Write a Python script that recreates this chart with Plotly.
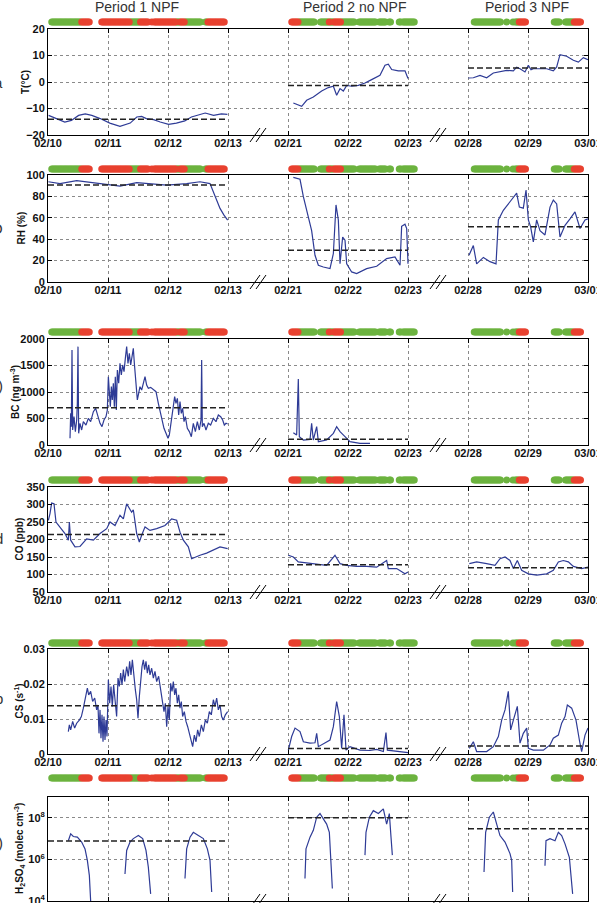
import plotly.graph_objects as go

# ---------------- data ----------------
DATE_LABELS = ["02/10", "02/11", "02/12", "02/13", "02/21", "02/22", "02/23", "02/28", "02/29", "03/01"]
PERIOD_START = [0, 4, 7]          # compressed-axis position of first day of each period
PERIOD_TITLES = ["Period 1 NPF", "Period 2 no NPF", "Period 3 NPF"]
LEFT_FRAGMENTS = ["a", "O", ")", "d", "b", ")"]   # clipped labels at the left edge of the page

# NPF classification, run-length encoded at 30-min steps ("g"=green, "r"=red, "."=none)
NPF_RUNS_P1 = [(".", 3), ("g", 24), ("r", 7), (".", 9), ("r", 23), ("g", 8), ("r", 7), (".", 2), ("r", 1), (".", 1),
               ("r", 18), ("g", 3), ("r", 4), ("g", 13), (".", 3), ("g", 2), ("r", 14), (".", 2)]
NPF_RUNS_P2 = [(".", 3), ("r", 6), ("g", 13), (".", 4), ("g", 7), ("r", 1), ("g", 3), ("r", 6), ("g", 11), (".", 3),
               ("g", 14), (".", 2), ("g", 6), (".", 2), ("g", 2), (".", 6), ("g", 2), (".", 1), ("g", 10)]
NPF_RUNS_P3 = [(".", 5), ("g", 22), (".", 4), ("g", 1), (".", 4), ("g", 1), (".", 1), ("g", 3), ("r", 6), (".", 22),
               ("g", 5), (".", 4), ("g", 7), ("r", 6), (".", 8), ("g", 1)]

# Temperature (deg C); time = days since period start
T_P1_t = [0.01, 0.14, 0.28, 0.39, 0.51, 0.62, 0.73, 0.87, 1.03, 1.20, 1.28, 1.37, 1.48, 1.56, 1.64, 1.76, 1.87, 2.01,
          2.14, 2.28, 2.39, 2.48, 2.62, 2.76, 2.89, 2.99]
T_P1 = [-12.6, -13.8, -15.1, -14.5, -12.6, -12.0, -12.6, -13.8, -15.5, -16.7, -16.0, -15.5, -13.2, -13.0, -13.8, -14.2,
        -15.1, -16.0, -15.5, -14.7, -13.2, -12.6, -11.7, -12.6, -12.0, -12.2]
T_P2_t = [0.089, 0.228, 0.311, 0.422, 0.561, 0.672, 0.756, 0.811, 0.867, 0.922, 0.978, 1.061, 1.172, 1.283, 1.394,
          1.533, 1.617, 1.672, 1.728, 1.839, 1.95, 2.0]
T_P2 = [-7.9, -9.2, -6.9, -5.7, -3.4, -2.1, -1.6, -5.0, -2.5, -3.4, -1.3, -1.6, -1.3, -0.4, 0.9, 2.5, 6.3, 6.7, 4.7,
        4.2, 4.2, 1.3]
T_P3_t = [0.006, 0.089, 0.20, 0.311, 0.422, 0.533, 0.644, 0.756, 0.811, 0.867, 0.95, 1.006, 1.05, 1.089, 1.20, 1.311,
          1.422, 1.478, 1.533, 1.644, 1.756, 1.839, 1.922, 2.0]
T_P3 = [1.5, 1.6, 2.5, 1.6, 3.4, 3.8, 4.4, 4.2, 5.6, 5.0, 3.8, 6.3, 4.6, 5.0, 5.0, 5.0, 4.2, 5.7, 10.3, 9.7, 8.2, 7.5,
        9.2, 8.4]

# Relative humidity (%)
RH_P1_t = [0.006, 0.20, 0.478, 0.644, 0.867, 1.20, 1.478, 1.70, 1.978, 2.311, 2.533, 2.70, 2.783, 2.867, 2.933, 2.994]
RH_P1 = [93.7, 92, 94.7, 93.7, 92, 89.7, 92.8, 92, 90.6, 92, 93.7, 92, 81, 68.8, 62.5, 57.8]
RH_P2_t = [0.089, 0.20, 0.256, 0.339, 0.394, 0.45, 0.506, 0.589, 0.70, 0.756, 0.80, 0.839, 0.867, 0.911, 0.95, 0.978,
           1.061, 1.144, 1.311, 1.478, 1.644, 1.783, 1.867, 1.894, 1.95, 1.978, 2.0]
RH_P2 = [97.8, 96, 79.7, 59.4, 48, 25, 15.6, 14, 12.5, 26.6, 72, 58, 17, 42, 39, 17, 9.4, 7.8, 12.5, 14.7, 21.9, 23.4,
         15.6, 52, 54, 50, 17]
RH_P3_t = [0.017, 0.089, 0.144, 0.256, 0.367, 0.467, 0.506, 0.589, 0.70, 0.811, 0.856, 0.922, 0.967, 1.006, 1.044,
           1.089, 1.144, 1.20, 1.283, 1.367, 1.422, 1.478, 1.533, 1.617, 1.70, 1.783, 1.867, 1.95, 2.0]
RH_P3 = [25, 34, 17, 23, 19, 17, 58, 67, 75, 83, 70, 69, 86, 58, 51.6, 37.5, 58, 48, 44, 70, 76.6, 73, 42, 53, 59, 65.6,
         50, 58, 59]

# Black carbon (ng m-3)
BC_P1_t = [0.367, 0.378, 0.389, 0.40, 0.411, 0.433, 0.456, 0.478, 0.489, 0.50, 0.511, 0.533, 0.561, 0.589, 0.633,
           0.672, 0.711, 0.756, 0.794, 0.828, 0.867, 0.90, 0.933, 0.967, 0.989, 1.006, 1.022, 1.039, 1.056, 1.072,
           1.089, 1.106, 1.122, 1.139, 1.156, 1.178, 1.20, 1.222, 1.244, 1.267, 1.289, 1.311, 1.333, 1.356, 1.378,
           1.40, 1.422, 1.439, 1.456, 1.472, 1.489, 1.511, 1.533, 1.561, 1.589, 1.617, 1.644, 1.672, 1.711, 1.756,
           1.80, 1.839, 1.867, 1.90, 1.933, 1.967, 2.0, 2.022, 2.044, 2.067, 2.089, 2.111, 2.133, 2.156, 2.178, 2.20,
           2.222, 2.244, 2.267, 2.289, 2.322, 2.356, 2.389, 2.422, 2.456, 2.489, 2.522, 2.55, 2.561, 2.572, 2.60,
           2.633, 2.672, 2.711, 2.756, 2.80, 2.839, 2.878, 2.911, 2.939, 2.967, 2.994]
BC_P1 = [126, 598, 346, 1793, 283, 535, 252, 472, 786, 1856, 220, 409, 283, 440, 377, 503, 440, 629, 692, 566, 409,
         346, 472, 535, 660, 1289, 912, 723, 1101, 849, 1164, 723, 1289, 660, 1415, 1164, 1541, 1321, 1510, 1384, 1635,
         1856, 1541, 1730, 1510, 1635, 1824, 1541, 1289, 1006, 849, 975, 1101, 1038, 1195, 1289, 1132, 1069, 1088,
         1050, 1006, 786, 660, 472, 315, 220, 126, 189, 346, 535, 723, 912, 786, 881, 566, 818, 598, 692, 440, 535,
         315, 252, 157, 409, 252, 440, 283, 472, 1604, 346, 409, 283, 409, 377, 503, 440, 566, 535, 472, 377, 409, 396]
BC_P2_t = [0.089, 0.144, 0.172, 0.189, 0.256, 0.367, 0.394, 0.422, 0.478, 0.506, 0.644, 0.756, 0.811, 0.867, 0.95,
           1.033, 1.20, 1.367]
BC_P2 = [233, 189, 1245, 157, 94, 107, 409, 94, 346, 63, 94, 220, 346, 252, 157, 63, 31, 31]
BC_P3_t = []
BC_P3 = []

# Carbon monoxide (ppb)
CO_P1_t = [0.006, 0.033, 0.061, 0.10, 0.133, 0.20, 0.283, 0.339, 0.356, 0.378, 0.45, 0.533, 0.644, 0.756, 0.867,
           0.978, 1.033, 1.117, 1.20, 1.256, 1.311, 1.394, 1.422, 1.478, 1.522, 1.561, 1.617, 1.70, 1.811, 1.95, 2.061,
           2.144, 2.20, 2.256, 2.339, 2.394, 2.45, 2.533, 2.644, 2.756, 2.867, 2.994]
CO_P1 = [255, 274, 304, 302, 250, 236, 217, 198, 250, 198, 179, 180, 202, 198, 217, 231, 250, 240, 269, 259, 302, 278,
         285, 217, 193, 212, 236, 226, 231, 240, 259, 255, 221, 198, 179, 145, 150, 155, 161, 171, 179, 174]
CO_P2_t = [0.006, 0.089, 0.172, 0.311, 0.478, 0.644, 0.783, 0.867, 0.978, 1.144, 1.311, 1.478, 1.644, 1.672, 1.811,
           1.95, 2.0]
CO_P2 = [155, 150, 136, 133, 131, 126, 155, 131, 126, 123, 123, 121, 140, 117, 117, 102, 107]
CO_P3_t = [0.022, 0.144, 0.311, 0.45, 0.533, 0.617, 0.70, 0.756, 0.822, 0.894, 1.006, 1.144, 1.311, 1.422, 1.506, 1.589,
           1.672, 1.756, 1.894, 2.0]
CO_P3 = [131, 136, 131, 126, 145, 150, 140, 117, 140, 112, 102, 98, 102, 112, 136, 140, 136, 123, 117, 121]

# Condensation sink (s-1)
CS_P1_t = [0.339, 0.356, 0.378, 0.411, 0.444, 0.478, 0.522, 0.556, 0.589, 0.622, 0.656, 0.678, 0.711, 0.744, 0.778,
           0.811, 0.833, 0.85, 0.867, 0.883, 0.90, 0.917, 0.933, 0.95, 0.967, 0.983, 1.006, 1.028, 1.05, 1.072, 1.094,
           1.117, 1.144, 1.167, 1.189, 1.211, 1.233, 1.256, 1.278, 1.311, 1.339, 1.361, 1.383, 1.406, 1.433, 1.456,
           1.478, 1.50, 1.522, 1.544, 1.567, 1.589, 1.611, 1.633, 1.656, 1.678, 1.70, 1.728, 1.756, 1.783, 1.811,
           1.844, 1.878, 1.906, 1.933, 1.956, 1.978, 2.0, 2.022, 2.044, 2.067, 2.089, 2.111, 2.133, 2.156, 2.178, 2.20,
           2.222, 2.244, 2.272, 2.30, 2.328, 2.356, 2.383, 2.411, 2.439, 2.467, 2.494, 2.522, 2.556, 2.589, 2.622,
           2.656, 2.689, 2.722, 2.756, 2.783, 2.811, 2.839, 2.867, 2.894, 2.922, 2.956, 2.994]
CS_P1 = [0.0064, 0.0083, 0.0069, 0.0093, 0.0074, 0.0088, 0.0097, 0.0107, 0.0131, 0.0164, 0.0188, 0.0169, 0.0179,
         0.0150, 0.0160, 0.0126, 0.0140, 0.0059, 0.0126, 0.0045, 0.0112, 0.0035, 0.0107, 0.0040, 0.0097, 0.0050,
         0.0212, 0.0145, 0.0193, 0.0136, 0.0198, 0.0155, 0.0107, 0.0217, 0.0193, 0.0231, 0.0198, 0.0241, 0.0207,
         0.0250, 0.0222, 0.0265, 0.0226, 0.0269, 0.0217, 0.0183, 0.0155, 0.0102, 0.0164, 0.0212, 0.0250, 0.0269,
         0.0241, 0.0265, 0.0231, 0.0255, 0.0226, 0.0245, 0.0217, 0.0236, 0.0207, 0.0222, 0.0179, 0.0155, 0.0121,
         0.0145, 0.0078, 0.0136, 0.0097, 0.0202, 0.0179, 0.0207, 0.0169, 0.0188, 0.0145, 0.0169, 0.0131, 0.0150,
         0.0107, 0.0121, 0.0093, 0.0078, 0.0059, 0.0040, 0.0021, 0.0054, 0.0035, 0.0069, 0.0050, 0.0083, 0.0064,
         0.0097, 0.0088, 0.0121, 0.0112, 0.0155, 0.0136, 0.0160, 0.0126, 0.0140, 0.0107, 0.0097, 0.0112, 0.0121]
CS_P2_t = [0.006, 0.061, 0.117, 0.20, 0.256, 0.367, 0.45, 0.478, 0.506, 0.589, 0.70, 0.756, 0.811, 0.856, 0.894, 0.933,
           0.967, 1.033, 1.20, 1.367, 1.478, 1.589, 1.633, 1.656, 1.811, 2.0]
CS_P2 = [0.0011, 0.005, 0.0074, 0.0064, 0.0035, 0.0031, 0.0032, 0.0059, 0.0021, 0.0029, 0.004, 0.0078, 0.015, 0.0107,
         0.0016, 0.0112, 0.0011, 0.0021, 0.0011, 0.001, 0.0013, 0.0007, 0.0061, 0.0011, 0.0007, 0.0004]
CS_P3_t = [0.022, 0.089, 0.144, 0.311, 0.422, 0.506, 0.561, 0.617, 0.672, 0.711, 0.756, 0.822, 0.867, 0.922, 0.978,
           1.006, 1.089, 1.256, 1.367, 1.422, 1.506, 1.561, 1.617, 1.656, 1.728, 1.80, 1.856, 1.894, 1.95, 2.0]
CS_P3 = [0.0016, 0.0035, 0.0007, 0.0007, 0.0021, 0.005, 0.0097, 0.0126, 0.0179, 0.0069, 0.0097, 0.0136, 0.0031,
         0.0059, 0.0074, 0.0016, 0.0011, 0.0011, 0.0026, 0.0045, 0.0054, 0.0088, 0.0107, 0.014, 0.0131, 0.0097, 0.004,
         0.0007, 0.0054, 0.0074]

# Sulfuric acid (molec cm-3); None separates daytime segments
H2SO4_P1_t = [0.339, 0.378, 0.422, 0.489, 0.561, 0.617, 0.656, 0.689, 0.711, None,
              1.283, 1.311, 1.367, 1.422, 1.506, 1.578, 1.633, 1.672, 1.711, None,
              2.283, 2.311, 2.367, 2.422, 2.506, 2.589, 2.656, 2.70, 2.728]
H2SO4_P1 = [7.9e6, 1.7e7, 1.26e7, 1.17e7, 6.8e6, 3.2e6, 8.9e5, 1.7e5, 1.0e4, None,
            2.0e5, 2.7e6, 6.8e6, 1.0e7, 1.4e7, 1.0e7, 2.7e6, 4.3e5, 2.2e4, None,
            1.2e5, 3.2e6, 1.17e7, 2.0e7, 1.4e7, 1.0e7, 3.2e6, 8.9e5, 2.7e4]
H2SO4_P2_t = [0.283, 0.30, 0.367, 0.422, 0.478, 0.533, 0.589, 0.644, 0.689, 0.711, 0.739, None,
              1.283, 1.30, 1.356, 1.422, 1.506, 1.589, 1.644, 1.689, 1.717, 1.739]
H2SO4_P2 = [1.2e5, 3.2e6, 1.17e7, 2.5e7, 1.07e8, 1.6e8, 8.9e7, 5.0e7, 2.0e7, 1.9e6, 4.0e4, None,
            1.6e6, 2.0e7, 1.07e8, 2.2e8, 1.6e8, 2.7e8, 5.0e7, 1.6e8, 1.17e7, 1.6e6]
H2SO4_P3_t = [0.267, 0.294, 0.356, 0.422, 0.478, 0.533, 0.617, 0.70, 0.728, 0.744, None,
              1.283, 1.30, 1.367, 1.45, 1.506, 1.561, 1.617, 1.689, 1.744]
H2SO4_P3 = [2.5e5, 2.0e7, 1.07e8, 1.9e8, 5.0e7, 1.4e7, 6.8e6, 1.9e6, 8.9e5, 2.7e4, None,
            5.0e5, 7.9e6, 1.0e7, 7.9e6, 2.0e7, 1.4e7, 5.6e6, 1.26e6, 2.2e4]

# Period means (dashed lines)
T_MEAN = [-14.1, -1.3, 5.3]
RH_MEAN = [90.6, 29.7, 51.6]
BC_MEAN = [704, 107, None]
CO_MEAN = [214, 128, 119]
CS_MEAN = [0.0138, 0.0016, 0.0023]
H2SO4_MEAN = [7.6e6, 1.0e8, 2.95e7]

# ---------------- figure ----------------
W, H = 597, 903
XL, XR = 48, 588
TOPS = [29, 175, 339, 487, 649, 797]
BOTS = [135, 282, 445, 592, 754, 901]
DOTS_Y = [22, 169, 332, 480, 643, 778]
FRAG_Y = [82, 228, 385, 538, 698, 842]
LINE_BLUE = "#2E3B96"
GREEN = "#6CB33F"
RED = "#E8412F"
FONT = "Liberation Sans"

panels = [
    dict(series=[(T_P1_t, T_P1), (T_P2_t, T_P2), (T_P3_t, T_P3)], mean=T_MEAN, title="T(°C)", tx=25,
         yaxis=dict(range=[-20, 20], tickvals=[-20, -10, 0, 10, 20])),
    dict(series=[(RH_P1_t, RH_P1), (RH_P2_t, RH_P2), (RH_P3_t, RH_P3)], mean=RH_MEAN, title="RH (%)", tx=21,
         yaxis=dict(range=[0, 100], tickvals=[0, 20, 40, 60, 80, 100])),
    dict(series=[(BC_P1_t, BC_P1), (BC_P2_t, BC_P2), (BC_P3_t, BC_P3)], mean=BC_MEAN,
         title="BC (ng m<sup>-3</sup>)", tx=15,
         yaxis=dict(range=[0, 2000], tickvals=[0, 500, 1000, 1500, 2000])),
    dict(series=[(CO_P1_t, CO_P1), (CO_P2_t, CO_P2), (CO_P3_t, CO_P3)], mean=CO_MEAN, title="CO (ppb)", tx=19,
         yaxis=dict(range=[50, 350], tickvals=[50, 100, 150, 200, 250, 300, 350])),
    dict(series=[(CS_P1_t, CS_P1), (CS_P2_t, CS_P2), (CS_P3_t, CS_P3)], mean=CS_MEAN, title="CS (s<sup>-1</sup>)",
         tx=18, yaxis=dict(range=[0, 0.03], tickvals=[0, 0.01, 0.02, 0.03], ticktext=["0", "0.01", "0.02", "0.03"])),
    dict(series=[(H2SO4_P1_t, H2SO4_P1), (H2SO4_P2_t, H2SO4_P2), (H2SO4_P3_t, H2SO4_P3)], mean=H2SO4_MEAN,
         title="H<sub>2</sub>SO<sub>4</sub> (molec cm<sup>-3</sup>)", tx=19,
         yaxis=dict(type="log", range=[4, 9], tickvals=[1e4, 1e6, 1e8],
                    ticktext=["10<sup>4</sup>", "10<sup>6</sup>", "10<sup>8</sup>"])),
]

npf_runs = [NPF_RUNS_P1, NPF_RUNS_P2, NPF_RUNS_P3]

fig = go.Figure()
layout = dict(width=W, height=H, margin=dict(l=0, r=0, t=0, b=0, autoexpand=False), paper_bgcolor="white",
              plot_bgcolor="white", showlegend=False, annotations=[], shapes=[])

tickfont = dict(family=FONT, size=11, color="#111", weight="bold")
xdom = [XL / W, XR / W]


def pdom(top, bot):
    return [1 - bot / H, 1 - top / H]


for k, pan in enumerate(panels, start=1):
    xa, ya = f"x{k}", f"y{k}"
    xd, yd = f"x{k + 6}", f"y{k + 6}"
    # data lines
    for p, (ts, vs) in enumerate(pan["series"]):
        if not ts:
            continue
        xs = [None if t is None else PERIOD_START[p] + t for t in ts]
        fig.add_trace(go.Scatter(x=xs, y=vs, mode="lines", line=dict(color=LINE_BLUE, width=1.2),
                                 xaxis=xa, yaxis=ya, connectgaps=False, hoverinfo="skip"))
    # period means
    for p, m in enumerate(pan["mean"]):
        if m is None:
            continue
        span = 3 if p == 0 else 2
        fig.add_trace(go.Scatter(x=[PERIOD_START[p], PERIOD_START[p] + span], y=[m, m], mode="lines",
                                 line=dict(color="#222", width=1.5, dash="6px,3px"), xaxis=xa, yaxis=ya,
                                 hoverinfo="skip"))
    # NPF classification dots
    for color_key, color in (("g", GREEN), ("r", RED)):
        xs = []
        for p, runs in enumerate(npf_runs):
            i = 0
            for key, n in runs:
                if key == color_key:
                    xs.extend(PERIOD_START[p] + (i + j) / 48 for j in range(n))
                i += n
        fig.add_trace(go.Scatter(x=xs, y=[0] * len(xs), mode="markers", marker=dict(color=color, size=7),
                                 xaxis=xd, yaxis=yd, cliponaxis=False, hoverinfo="skip"))

    xkey = "xaxis" if k == 1 else f"xaxis{k}"
    ykey = "yaxis" if k == 1 else f"yaxis{k}"
    layout[xkey] = dict(domain=xdom, range=[0, 9], anchor=ya, tickvals=list(range(10)), ticktext=DATE_LABELS,
                        ticks="inside", ticklen=4, tickcolor="black", showline=True, linecolor="black",
                        linewidth=1, mirror="ticks", showgrid=True, gridcolor="#8a8a8a", griddash="dot",
                        gridwidth=1, zeroline=False, tickfont=tickfont, tickangle=0, automargin=False,
                        ticklabeloverflow="allow", ticklabelstandoff=-2)
    yax = dict(domain=pdom(TOPS[k - 1], BOTS[k - 1]), anchor=xa, ticks="inside", ticklen=4, tickcolor="black",
               showline=True, linecolor="black", linewidth=1, mirror="ticks", showgrid=True, gridcolor="#8a8a8a",
               griddash="dot", gridwidth=1, zeroline=False, tickfont=tickfont, automargin=False,
               ticklabeloverflow="allow")
    yax.update(pan["yaxis"])
    layout[ykey] = yax
    layout[f"xaxis{k + 6}"] = dict(domain=xdom, range=[0, 9], anchor=yd, visible=False, automargin=False)
    dy = DOTS_Y[k - 1]
    layout[f"yaxis{k + 6}"] = dict(domain=pdom(dy - 4, dy + 4), range=[-1, 1], anchor=xd, visible=False,
                                   automargin=False)

    # y-axis title
    mid = (TOPS[k - 1] + BOTS[k - 1]) / 2
    layout["annotations"].append(dict(text=pan["title"], x=pan["tx"] / W, y=1 - mid / H, xref="paper",
                                      yref="paper", textangle=-90, showarrow=False, xanchor="center",
                                      yanchor="middle", font=dict(family=FONT, size=10, color="#111",
                                                                  weight="bold")))
    # clipped fragment of a label at the far left
    layout["annotations"].append(dict(text=LEFT_FRAGMENTS[k - 1], x=5 / W, y=1 - FRAG_Y[k - 1] / H, xref="paper",
                                      yref="paper", showarrow=False, xanchor="right", yanchor="middle",
                                      font=dict(family=FONT, size=15, color="#333")))
    # axis-break marks
    ybot = 1 - BOTS[k - 1] / H
    for xb in (3.5, 6.5):
        for off in (-3, 3):
            layout["shapes"].append(dict(type="line", xref=xa, xsizemode="pixel", xanchor=xb, x0=off - 5,
                                         x1=off + 5, yref="paper", ysizemode="pixel", yanchor=ybot, y0=-7, y1=7,
                                         line=dict(color="black", width=1)))

# period titles
for cx, txt in zip([137, 355, 527], PERIOD_TITLES):
    layout["annotations"].append(dict(text=txt, x=cx / W, y=1 - 17 / H, xref="paper", yref="paper",
                                      showarrow=False, xanchor="center", yanchor="bottom",
                                      font=dict(family=FONT, size=14, color="#333")))

fig.update_layout(**layout)
fig.write_html("out.html")
